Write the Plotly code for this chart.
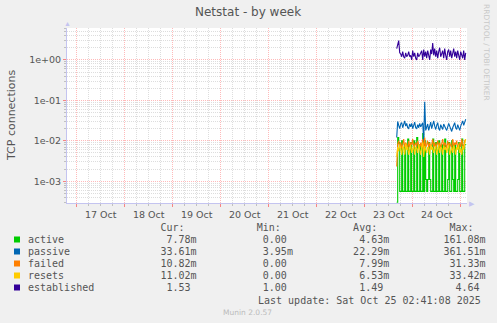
import plotly.graph_objects as go
import pandas as pd

# ---------------- data ----------------
start_time = "2025-10-23 16:00"
n_points = 70
times = pd.date_range(start=start_time, periods=n_points, freq="30min")

active = [
    0.0003, 0.012, 0.009, 0.00056, 0.00056, 0.010, 0.00056, 0.00056, 0.008, 0.00056,
    0.00056, 0.011, 0.00056, 0.00056, 0.009, 0.00056, 0.00056, 0.010, 0.00056, 0.00056,
    0.012, 0.00056, 0.00056, 0.008, 0.00056, 0.00056, 0.015, 0.00056, 0.010, 0.0011,
    0.00056, 0.0011, 0.009, 0.0011, 0.00056, 0.00056, 0.011, 0.00056, 0.00056, 0.009,
    0.00056, 0.00056, 0.010, 0.00056, 0.00056, 0.008, 0.00056, 0.00056, 0.011, 0.00056,
    0.00056, 0.0011, 0.009, 0.00056, 0.00056, 0.010, 0.0011, 0.00056, 0.008, 0.00056,
    0.00056, 0.0011, 0.009, 0.00056, 0.00056, 0.011, 0.00056, 0.00056, 0.008, 0.0078,
]
passive = [
    0.012, 0.030, 0.024, 0.020, 0.026, 0.028, 0.021, 0.025, 0.031, 0.023,
    0.027, 0.021, 0.020, 0.026, 0.022, 0.027, 0.020, 0.024, 0.029, 0.021,
    0.020, 0.025, 0.021, 0.027, 0.022, 0.025, 0.028, 0.010, 0.092, 0.018,
    0.022, 0.026, 0.018, 0.024, 0.029, 0.020, 0.027, 0.031, 0.023, 0.019,
    0.024, 0.028, 0.020, 0.018, 0.025, 0.021, 0.019, 0.026, 0.022, 0.020,
    0.018, 0.022, 0.027, 0.023, 0.019, 0.017, 0.021, 0.024, 0.028, 0.021,
    0.019, 0.025, 0.020, 0.018, 0.023, 0.027, 0.031, 0.024, 0.029, 0.034,
]
failed = [
    0.0023, 0.0080, 0.0100, 0.0070, 0.0090, 0.0065, 0.0080, 0.0110, 0.0070, 0.0090,
    0.0080, 0.0060, 0.0100, 0.0070, 0.0090, 0.0080, 0.0110, 0.0065, 0.0080, 0.0090,
    0.0070, 0.0100, 0.0080, 0.0065, 0.0090, 0.0070, 0.0110, 0.0055, 0.0120, 0.0070,
    0.0080, 0.0100, 0.0065, 0.0090, 0.0070, 0.0080, 0.0110, 0.0070, 0.0090, 0.0065,
    0.0080, 0.0100, 0.0070, 0.0090, 0.0065, 0.0080, 0.0110, 0.0070, 0.0090, 0.0080,
    0.0065, 0.0100, 0.0070, 0.0090, 0.0080, 0.0065, 0.0110, 0.0070, 0.0090, 0.0080,
    0.0100, 0.0065, 0.0080, 0.0090, 0.0070, 0.0110, 0.0080, 0.0065, 0.0100, 0.0108,
]
resets = [
    0.0040, 0.0070, 0.0055, 0.0080, 0.0060, 0.0045, 0.0075, 0.0065, 0.0045, 0.0085,
    0.0060, 0.0070, 0.0045, 0.0065, 0.0080, 0.0050, 0.0060, 0.0075, 0.0045, 0.0070,
    0.0065, 0.0050, 0.0080, 0.0060, 0.0045, 0.0070, 0.0090, 0.0040, 0.0075, 0.0060,
    0.0050, 0.0070, 0.0065, 0.0045, 0.0080, 0.0060, 0.0070, 0.0050, 0.0065, 0.0075,
    0.0045, 0.0060, 0.0080, 0.0050, 0.0070, 0.0065, 0.0045, 0.0075, 0.0060, 0.0070,
    0.0050, 0.0065, 0.0080, 0.0045, 0.0060, 0.0070, 0.0050, 0.0075, 0.0065, 0.0045,
    0.0070, 0.0060, 0.0080, 0.0050, 0.0065, 0.0045, 0.0075, 0.0060, 0.0085, 0.0110,
]
established = [
    1.9, 2.4, 3.0, 1.5, 1.4, 1.2, 1.6, 1.2, 1.1, 1.5,
    1.2, 1.3, 1.6, 1.2, 1.3, 1.0, 1.7, 1.2, 1.5, 1.1,
    1.0, 1.5, 1.2, 1.3, 1.6, 1.7, 1.0, 1.8, 1.2, 1.6,
    1.1, 1.7, 1.3, 1.0, 1.8, 1.4, 2.6, 1.3, 1.9, 1.2,
    1.7, 1.1, 1.6, 2.0, 1.2, 1.5, 1.7, 1.1, 1.9, 1.3,
    1.0, 1.6, 1.8, 1.2, 1.7, 1.1, 1.5, 1.9, 1.2, 1.6,
    1.1, 1.7, 1.3, 1.0, 1.6, 1.2, 1.1, 1.7, 1.0, 1.5,
]

series_names = ["active", "passive", "failed", "resets", "established"]
series_colors = ["#00CC00", "#0066B3", "#FF8000", "#FFCC00", "#330099"]
cur_vals = ["  7.78m", " 33.61m", " 10.82m", " 11.02m", "  1.53 "]
min_vals = ["  0.00 ", "  3.95m", "  0.00 ", "  0.00 ", "  1.00 "]
avg_vals = ["  4.63m", " 22.29m", "  7.99m", "  6.53m", "  1.49 "]
max_vals = ["161.08m", "361.51m", " 31.33m", " 33.42m", "  4.64 "]

ytick_vals = [1e-3, 1e-2, 1e-1, 1]
ytick_text = ["1e-03", "1e-02", "1e-01", "1e+00"]

x_range = ["2025-10-16 19:09", "2025-10-25 03:09"]
y_range = [-3.54, 0.79]

title_text = "Netstat - by week"
ylabel_text = "TCP connections"
last_update = "Last update: Sat Oct 25 02:41:08 2025"
munin_ver = "Munin 2.0.57"
side_text = "RRDTOOL / TOBI OETIKER"

# ---------------- layout geometry ----------------
W, H = 497, 323
L, R, T, B = 67, 467, 28, 203


def px(x):
    return (x - L) / (R - L)


def py(y):
    return (B - y) / (B - T)


fig = go.Figure()
all_series = [active, passive, failed, resets, established]
shapes_line = ["hv", "linear", "linear", "linear", "linear"]
for name, vals, col, shp in zip(series_names, all_series, series_colors, shapes_line):
    fig.add_trace(go.Scatter(x=times, y=vals, mode="lines", name=name,
                             line=dict(color=col, width=1.1, shape=shp),
                             showlegend=False, hoverinfo="skip"))

major_grid = "rgba(255,0,0,0.27)"
minor_grid = "rgba(120,120,120,0.25)"
axis_col = "#C4C4F0"
text_col = "#555555"

minor_y = [k * 10.0 ** e for e in range(-4, 1) for k in range(2, 10)]

fig.update_xaxes(
    type="date", range=x_range,
    tick0="2025-10-17", dtick=86400000, ticklabelmode="period",
    tickformat="%d %b",
    showgrid=True, gridcolor=major_grid, griddash="1px,1px", gridwidth=1,
    ticks="outside", ticklen=3, tickcolor="rgba(255,0,0,0.45)",
    minor=dict(dtick=21600000, showgrid=True, gridcolor=minor_grid,
               griddash="1px,1px", ticks="outside", ticklen=2,
               tickcolor="rgba(120,120,120,0.4)"),
    showline=True, linecolor=axis_col, linewidth=1,
    tickfont=dict(family="DejaVu Sans", size=9.5, color=text_col),
    zeroline=False, fixedrange=True,
)
fig.update_yaxes(
    type="log", range=y_range,
    tickmode="array", tickvals=ytick_vals, ticktext=ytick_text,
    showgrid=True, gridcolor=major_grid, griddash="1px,1px", gridwidth=1,
    ticks="outside", ticklen=3, tickcolor="rgba(255,0,0,0.45)",
    minor=dict(tickmode="array", tickvals=minor_y, showgrid=True,
               gridcolor=minor_grid, griddash="1px,1px", ticks="outside",
               ticklen=2, tickcolor="rgba(120,120,120,0.4)"),
    showline=True, linecolor=axis_col, linewidth=1,
    tickfont=dict(family="DejaVu Sans", size=9.5, color=text_col),
    zeroline=False, fixedrange=True,
)

ann = []
shapes = []
ann.append(dict(x=px(247.5), y=py(12), xref="paper", yref="paper",
                text=title_text, showarrow=False, xanchor="center", yanchor="middle",
                font=dict(family="DejaVu Sans", size=12, color=text_col)))
ann.append(dict(x=px(11), y=py(115), xref="paper", yref="paper",
                text=ylabel_text, showarrow=False, textangle=-90,
                xanchor="center", yanchor="middle",
                font=dict(family="DejaVu Sans", size=11, color=text_col)))
ann.append(dict(x=px(487), y=py(52), xref="paper", yref="paper",
                text=side_text, showarrow=False, textangle=90,
                xanchor="center", yanchor="middle",
                font=dict(family="DejaVu Sans", size=7.5, color="#C8C8C8")))
# axis arrows
ann.append(dict(x=px(67), y=py(23.5), xref="paper", yref="paper", text="▲",
                showarrow=False, xanchor="center", yanchor="middle",
                font=dict(size=7, color=axis_col)))
ann.append(dict(x=px(471.5), y=py(203), xref="paper", yref="paper", text="▶",
                showarrow=False, xanchor="center", yanchor="middle",
                font=dict(size=7, color=axis_col)))

mono = dict(family="DejaVu Sans Mono", size=10, color=text_col)
header = " " * 22 + "Cur:" + " " * 12 + "Min:" + " " * 12 + "Avg:" + " " * 12 + "Max:"
ann.append(dict(x=px(26), y=py(227), xref="paper", yref="paper", text=header.replace(" ", "&nbsp;"),
                showarrow=False, xanchor="left", yanchor="middle", font=mono))
for i, name in enumerate(series_names):
    yc = 239.5 + 12 * i
    row = name.ljust(21) + cur_vals[i] + " " * 9 + min_vals[i] + " " * 9 + avg_vals[i] + " " * 9 + max_vals[i]
    ann.append(dict(x=px(26), y=py(yc), xref="paper", yref="paper",
                    text=row.replace(" ", "&nbsp;"), showarrow=False,
                    xanchor="left", yanchor="middle", font=mono))
    shapes.append(dict(type="rect", xref="paper", yref="paper",
                       x0=px(14), x1=px(20), y0=py(yc + 3), y1=py(yc - 3),
                       fillcolor=series_colors[i], line=dict(width=0)))
ann.append(dict(x=px(483), y=py(300), xref="paper", yref="paper",
                text=last_update.replace(" ", "&nbsp;"), showarrow=False,
                xanchor="right", yanchor="middle", font=mono))
ann.append(dict(x=px(247), y=py(312.5), xref="paper", yref="paper",
                text=munin_ver, showarrow=False, xanchor="center", yanchor="middle",
                font=dict(family="DejaVu Sans", size=7.5, color="#BBBBBB")))

fig.update_layout(
    width=W, height=H,
    margin=dict(l=L, r=W - R, t=T, b=H - B, pad=0),
    paper_bgcolor="#F0F0F0", plot_bgcolor="#FFFFFF",
    annotations=ann, shapes=shapes, showlegend=False,
)

fig.write_html("out.html", config={"displayModeBar": False})
